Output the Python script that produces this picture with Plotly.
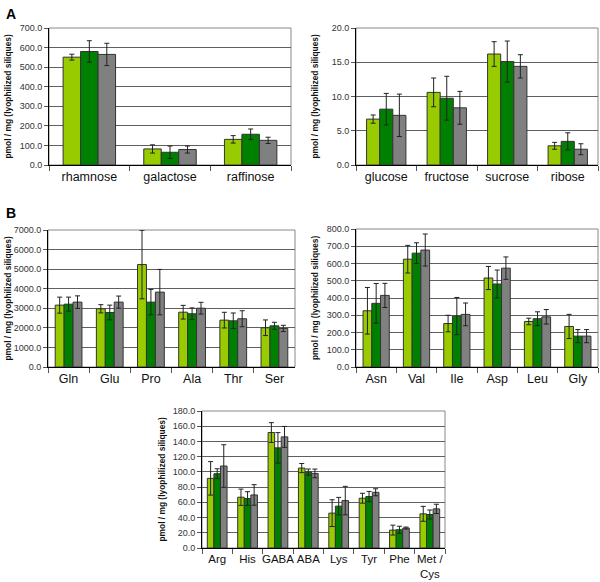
import plotly.graph_objects as go

# ---- data ----
cats1 = ["rhamnose", "galactose", "raffinose"]
light1 = [551, 82, 131]
dark1 = [580, 65, 157]
gray1 = [565, 79, 126]
light1_err = [15, 21, 19]
dark1_err = [55, 32, 27]
gray1_err = [57, 18, 16]

cats2 = ["glucose", "fructose", "sucrose", "ribose"]
light2 = [6.7, 10.6, 16.2, 2.8]
dark2 = [8.15, 9.75, 15.1, 3.45]
gray2 = [7.25, 8.35, 14.4, 2.3]
light2_err = [0.6, 2.1, 1.8, 0.5]
dark2_err = [2.3, 3.2, 3.0, 1.25]
gray2_err = [3.1, 2.4, 1.7, 0.8]

cats3 = ["Gln", "Glu", "Pro", "Ala", "Thr", "Ser"]
light3 = [3160, 2975, 5235, 2800, 2395, 2005]
dark3 = [3210, 2785, 3315, 2720, 2360, 2105]
gray3 = [3315, 3315, 3825, 3005, 2465, 1970]
light3_err = [410, 210, 1750, 350, 400, 400]
dark3_err = [360, 375, 650, 300, 400, 180]
gray3_err = [320, 310, 1160, 300, 410, 160]

cats4 = ["Asn", "Val", "Ile", "Asp", "Leu", "Gly"]
light4 = [326, 625, 252, 516, 264, 235]
dark4 = [369, 660, 295, 481, 280, 179]
gray4 = [415, 678, 305, 573, 291, 179]
light4_err = [135, 80, 48, 67, 19, 70]
dark4_err = [115, 60, 108, 81, 40, 38]
gray4_err = [70, 93, 66, 65, 42, 38]

cats5 = ["Arg", "His", "GABA", "ABA", "Lys", "Tyr", "Phe", "Met /<br>Cys"]
light5 = [91.5, 66.7, 151.7, 105, 45.8, 65.4, 23.5, 44.9]
dark5 = [97.6, 65, 131.6, 99.8, 55, 67.6, 24, 44]
gray5 = [107.7, 69.7, 146, 98, 62.3, 73.2, 26.2, 51.4]
light5_err = [22, 10.7, 13, 6, 17.6, 6.5, 6.5, 9.8]
dark5_err = [6.5, 9, 20, 4, 11.5, 6.7, 4.6, 5.9]
gray5_err = [28, 13.5, 13.7, 5.7, 18.7, 4.6, 1.3, 6.1]

ytitle = "pmol / mg (lyophilized siliques)"

W, H = 600, 582
COLORS = ["#99cc00", "#008000", "#808080"]

panels = [
    dict(cats=cats1, vals=[light1, dark1, gray1], errs=[light1_err, dark1_err, gray1_err],
         rng=[0, 700], dtick=100, px=(49, 291), py=(28, 165), fs=12.5),
    dict(cats=cats2, vals=[light2, dark2, gray2], errs=[light2_err, dark2_err, gray2_err],
         rng=[0, 20], dtick=5, px=(356, 598), py=(28, 165), fs=12.5),
    dict(cats=cats3, vals=[light3, dark3, gray3], errs=[light3_err, dark3_err, gray3_err],
         rng=[0, 7000], dtick=1000, px=(48, 295), py=(230, 367), fs=12.5),
    dict(cats=cats4, vals=[light4, dark4, gray4], errs=[light4_err, dark4_err, gray4_err],
         rng=[0, 800], dtick=100, px=(356, 598), py=(229, 367), fs=12.5),
    dict(cats=cats5, vals=[light5, dark5, gray5], errs=[light5_err, dark5_err, gray5_err],
         rng=[0, 180], dtick=20, px=(202, 445), py=(411, 548), fs=11.5),
]

fig = go.Figure()
layout = {}
shapes = []
annotations = []
FONT = "Liberation Sans, Arial, sans-serif"

for i, p in enumerate(panels):
    n = "" if i == 0 else str(i + 1)
    xr, yr = "x" + n, "y" + n
    for s in range(3):
        fig.add_trace(go.Bar(
            x=p["cats"], y=p["vals"][s], xaxis=xr, yaxis=yr,
            marker=dict(color=COLORS[s], line=dict(color="#333333", width=1)),
            error_y=dict(type="data", array=p["errs"][s], color="#222222",
                         thickness=1, width=2.5),
            offsetgroup=str(s), showlegend=False,
        ))
    xd = [p["px"][0] / W, p["px"][1] / W]
    yd = [1 - p["py"][1] / H, 1 - p["py"][0] / H]
    layout["xaxis" + n] = dict(
        domain=xd, anchor=yr, type="category", showgrid=False,
        showline=True, linecolor="#000000", linewidth=1,
        ticks="outside", ticklen=5, tickcolor="#555555", tickson="boundaries",
        tickangle=0, automargin=False,
        tickfont=dict(family=FONT, size=p["fs"], color="#111111"),
        fixedrange=True,
    )
    layout["yaxis" + n] = dict(
        domain=yd, anchor=xr, range=p["rng"], dtick=p["dtick"], tickformat=".1f",
        showgrid=True, gridcolor="#5f5f5f", gridwidth=1,
        showline=True, linecolor="#000000", linewidth=1,
        ticks="outside", ticklen=4, tickcolor="#555555", automargin=False,
        tickfont=dict(family=FONT, size=9, color="#333333"),
        zeroline=False, fixedrange=True,
    )
    shapes.append(dict(type="rect", xref=xr + " domain", yref=yr + " domain",
                       x0=0, x1=1, y0=0, y1=1, line=dict(color="#888888", width=1),
                       layer="below"))
    annotations.append(dict(
        text="<b>" + ytitle + "</b>", textangle=-90, xref="paper", yref="paper",
        x=(p["px"][0] - 41) / W, y=1 - (p["py"][0] + p["py"][1]) / 2 / H,
        xanchor="center", yanchor="middle", showarrow=False,
        font=dict(family=FONT, size=8.4, color="#111111"),
    ))

annotations.append(dict(text="<b>A</b>", xref="paper", yref="paper", x=4 / W, y=1 - 4 / H,
                        xanchor="left", yanchor="top", showarrow=False,
                        font=dict(family=FONT, size=14, color="#000000")))
annotations.append(dict(text="<b>B</b>", xref="paper", yref="paper", x=4 / W, y=1 - 203 / H,
                        xanchor="left", yanchor="top", showarrow=False,
                        font=dict(family=FONT, size=14, color="#000000")))

fig.update_layout(
    width=W, height=H, margin=dict(l=0, r=0, t=0, b=0, autoexpand=False),
    paper_bgcolor="#ffffff", plot_bgcolor="#ffffff",
    barmode="group", bargap=0.35, bargroupgap=0,
    shapes=shapes, annotations=annotations, showlegend=False,
    **layout,
)

fig.write_html(
    "out.html",
    config={"displayModeBar": False, "staticPlot": True},
    post_script="document.body.style.margin='0';document.body.style.overflow='hidden';",
)
